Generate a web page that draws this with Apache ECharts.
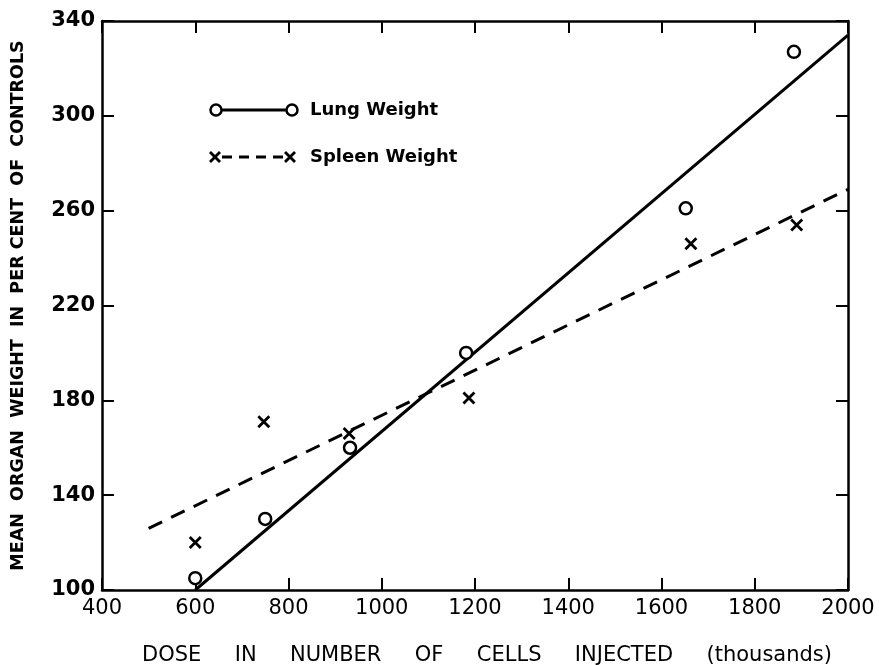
<!DOCTYPE html>
<html><head><meta charset="utf-8">
<script src="https://cdn.jsdelivr.net/npm/echarts@6/dist/echarts.min.js"></script>
<style>html,body{margin:0;padding:0;background:#fff}#c{width:879px;height:665px}</style>
</head><body><div id="c"></div>
<script>
const lungDose = [600, 750, 932, 1181, 1652, 1884];
const lungWeight = [105, 130, 160, 200, 261, 327];
const spleenDose = [600, 747, 930, 1187, 1663, 1890];
const spleenWeight = [120, 171, 166, 181, 246, 254];
const lungFitX = [600, 2000];
const lungFitY = [100, 334];
const spleenFitX = [500, 2000];
const spleenFitY = [126, 269];
const xTicks = [400, 600, 800, 1000, 1200, 1400, 1600, 1800, 2000];
const yTicks = [100, 140, 180, 220, 260, 300, 340];
const seriesNames = ['Lung Weight', 'Spleen Weight'];

const FONT = 'DejaVu Sans';
const X_SYM = 'path://M0,0L10,10M10,0L0,10';
const pairs = (a, b) => a.map((v, i) => [v, b[i]]);

const chart = echarts.init(document.getElementById('c'));
const axisCommon = {
  axisLine: {show: true, lineStyle: {color: '#000', width: 2.5}},
  axisTick: {show: true, inside: true, length: 12, lineStyle: {color: '#000', width: 2}},
  splitLine: {show: false}
};
chart.setOption({
  animation: false,
  backgroundColor: '#fff',
  grid: {left: 102, right: 31, top: 21, bottom: 75, outerBoundsMode: 'none', containLabel: false},
  xAxis: [
    Object.assign({type: 'value', min: xTicks[0], max: xTicks[xTicks.length-1], interval: 200,
      name: 'DOSE     IN     NUMBER     OF     CELLS     INJECTED     (thousands)', nameLocation: 'middle', nameGap: 55,
      nameTextStyle: {fontFamily: FONT, fontSize: 21, color: '#000', padding: [0, 0, 0, 24]},
      axisLabel: {fontFamily: FONT, fontSize: 21, color: '#000', margin: 8, formatter: v => String(v)}}, axisCommon),
    Object.assign({type: 'value', position: 'top', min: xTicks[0], max: xTicks[xTicks.length-1], interval: 200,
      axisLabel: {show: false}}, axisCommon)
  ],
  yAxis: [
    Object.assign({type: 'value', min: yTicks[0], max: yTicks[yTicks.length-1], interval: 40,
      name: 'MEAN  ORGAN  WEIGHT  IN  PER CENT  OF  CONTROLS', nameLocation: 'middle', nameGap: 75,
      nameTextStyle: {fontFamily: FONT, fontSize: 17.5, color: '#000', fontWeight: 'bold'},
      axisLabel: {fontFamily: FONT, fontSize: 21, color: '#000', margin: 7, fontWeight: 'bold'}}, axisCommon),
    Object.assign({type: 'value', position: 'right', min: yTicks[0], max: yTicks[yTicks.length-1], interval: 40,
      axisLabel: {show: false}}, axisCommon)
  ],
  series: [
    {name: seriesNames[0] + ' fit', type: 'line', data: pairs(lungFitX, lungFitY), showSymbol: false,
      lineStyle: {color: '#000', width: 3}, z: 2},
    {name: seriesNames[1] + ' fit', type: 'line', data: pairs(spleenFitX, spleenFitY), showSymbol: false,
      lineStyle: {color: '#000', width: 3, type: [15, 10]}, z: 2},
    {name: seriesNames[0], type: 'scatter', data: pairs(lungDose, lungWeight), symbol: 'circle', symbolSize: 12,
      itemStyle: {color: '#fff', borderColor: '#000', borderWidth: 2.5, opacity: 1}, z: 3},
    {name: seriesNames[1], type: 'scatter', data: pairs(spleenDose, spleenWeight), symbol: X_SYM, symbolSize: 11,
      itemStyle: {color: 'none', borderColor: '#000', borderWidth: 2.8, opacity: 1}, z: 3}
  ],
  graphic: [
    {type: 'line', shape: {x1: 222, y1: 110, x2: 287, y2: 110}, style: {stroke: '#000', lineWidth: 3}},
    {type: 'circle', shape: {cx: 216, cy: 110, r: 5.5}, style: {fill: '#fff', stroke: '#000', lineWidth: 2.5}},
    {type: 'circle', shape: {cx: 292, cy: 110, r: 5.5}, style: {fill: '#fff', stroke: '#000', lineWidth: 2.5}},
    {type: 'text', x: 310, y: 110, style: {text: seriesNames[0], fontFamily: FONT, fontSize: 18, fontWeight: 'bold', fill: '#000', textVerticalAlign: 'middle', verticalAlign: 'middle'}},
    {type: 'line', shape: {x1: 222, y1: 157, x2: 283, y2: 157}, style: {stroke: '#000', lineWidth: 3, lineDash: [10, 7]}},
    {type: 'polyline', shape: {points: [[210, 152], [220, 162]]}, style: {stroke: '#000', lineWidth: 2.8}},
    {type: 'polyline', shape: {points: [[220, 152], [210, 162]]}, style: {stroke: '#000', lineWidth: 2.8}},
    {type: 'polyline', shape: {points: [[285, 152], [295, 162]]}, style: {stroke: '#000', lineWidth: 2.8}},
    {type: 'polyline', shape: {points: [[295, 152], [285, 162]]}, style: {stroke: '#000', lineWidth: 2.8}},
    {type: 'text', x: 310, y: 157, style: {text: seriesNames[1], fontFamily: FONT, fontSize: 18, fontWeight: 'bold', fill: '#000', textVerticalAlign: 'middle', verticalAlign: 'middle'}}
  ]
});
</script></body></html>
